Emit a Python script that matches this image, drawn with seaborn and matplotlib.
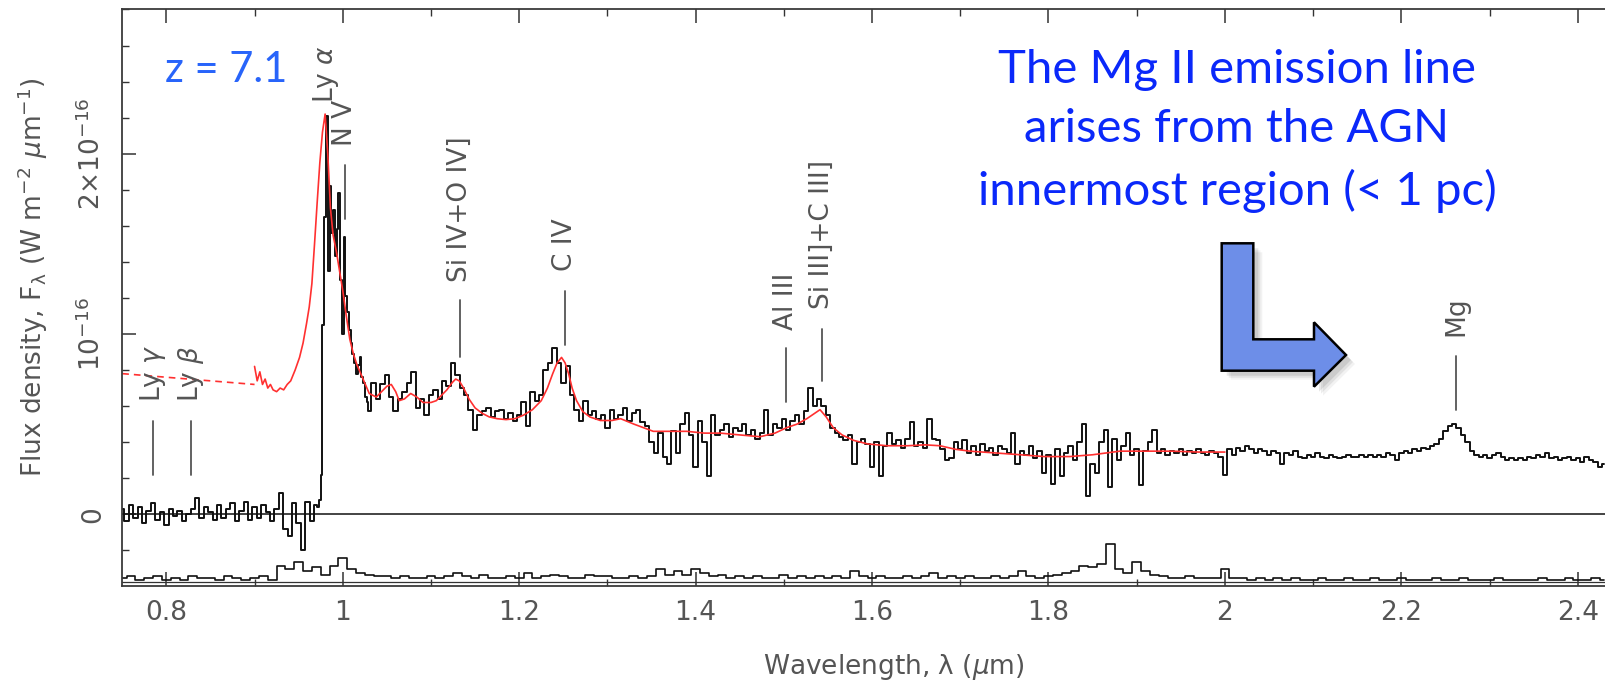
import numpy as np
import pandas as pd
import seaborn as sns
import matplotlib
matplotlib.use("Agg")
import matplotlib.pyplot as plt
from matplotlib.patches import Polygon
from matplotlib.ticker import MultipleLocator, FuncFormatter

# observed spectrum, flux in units of 1e-16 W m^-2 um^-1
# blue side: every 0.005 um from 0.750 to 0.970
flux_blue = [
    0.03, -0.04, 0.05, -0.02, 0.04, -0.05, 0.02, 0.06, -0.03, 0.01, -0.06, 0.03, -0.01, 0.02, -0.04, 0.00, 0.03, 0.09, -0.02, 0.04,
    0.01, -0.03, 0.05, -0.02, 0.03, 0.06, -0.04, 0.02, 0.07, -0.03, 0.04, -0.02, 0.05, 0.01, -0.04, 0.03, 0.12, -0.08, -0.12, 0.06,
    -0.05, -0.20, 0.07, -0.04, 0.05,
]
# Ly-alpha region: every 0.002 um from 0.972 to 1.030
flux_lya = [
    0.04, 0.08, 0.22, 1.05, 1.65, 2.21, 1.35, 1.82, 1.56, 1.69, 1.43, 1.58, 1.78, 1.30, 1.00,
    1.54, 1.21, 1.12, 1.02, 0.95, 0.89, 0.84, 0.78, 0.83, 0.87, 0.76, 0.73, 0.65, 0.62, 0.57,
]
# red side: every 0.005 um from 1.035 to 2.430
flux_red = [
    0.73, 0.64, 0.72,
    0.77, 0.65, 0.57, 0.64, 0.68, 0.73, 0.79, 0.59, 0.64, 0.55, 0.66, 0.69, 0.64, 0.74, 0.71, 0.84, 0.77, 0.70, 0.66, 0.58,
    0.47, 0.55, 0.57, 0.59, 0.54, 0.57, 0.58, 0.53, 0.56, 0.52, 0.55, 0.62, 0.49, 0.68, 0.63, 0.66, 0.80, 0.84, 0.92, 0.84,
    0.73, 0.82, 0.66, 0.58, 0.52, 0.63, 0.55, 0.57, 0.53, 0.55, 0.48, 0.58, 0.53, 0.55, 0.59, 0.52, 0.56, 0.58, 0.51, 0.49,
    0.40, 0.34, 0.45, 0.32, 0.28, 0.46, 0.34, 0.50, 0.56, 0.44, 0.26, 0.52, 0.40, 0.21, 0.55, 0.44, 0.47, 0.50, 0.43, 0.48,
    0.46, 0.50, 0.44, 0.47, 0.42, 0.45, 0.58, 0.44, 0.50, 0.48, 0.53, 0.47, 0.52, 0.55, 0.50, 0.57, 0.70, 0.60, 0.64, 0.60,
    0.55, 0.48, 0.45, 0.43, 0.41, 0.44, 0.28, 0.40, 0.42, 0.39, 0.26, 0.40, 0.21, 0.38, 0.45, 0.39, 0.41, 0.37, 0.42, 0.51,
    0.38, 0.40, 0.37, 0.53, 0.42, 0.41, 0.36, 0.30, 0.31, 0.40, 0.36, 0.41, 0.34, 0.38, 0.33, 0.39, 0.35, 0.37, 0.33, 0.38,
    0.36, 0.34, 0.45, 0.28, 0.35, 0.33, 0.38, 0.31, 0.35, 0.23, 0.33, 0.17, 0.36, 0.21, 0.34, 0.38, 0.30, 0.40, 0.50, 0.10,
    0.28, 0.23, 0.40, 0.47, 0.15, 0.42, 0.30, 0.38, 0.45, 0.33, 0.36, 0.16, 0.35, 0.40, 0.47, 0.34, 0.36, 0.33, 0.35, 0.34,
    0.36, 0.33, 0.35, 0.34, 0.36, 0.34, 0.33, 0.35, 0.34, 0.32, 0.22, 0.36, 0.33, 0.37, 0.35, 0.38, 0.36, 0.34, 0.36, 0.35,
    0.33, 0.35, 0.34, 0.28, 0.34, 0.33, 0.35, 0.32, 0.31, 0.33, 0.32, 0.34, 0.32, 0.31, 0.33, 0.32, 0.31, 0.32, 0.33, 0.32,
    0.32, 0.33, 0.32, 0.33, 0.32, 0.33, 0.32, 0.34, 0.33, 0.30, 0.34, 0.35, 0.34, 0.36, 0.35, 0.37, 0.36, 0.38, 0.39, 0.42,
    0.46, 0.49, 0.50, 0.48, 0.44, 0.40, 0.35, 0.33, 0.32, 0.33, 0.31, 0.33, 0.34, 0.32, 0.30, 0.31, 0.30, 0.31, 0.30, 0.32,
    0.31, 0.33, 0.32, 0.34, 0.31, 0.32, 0.30, 0.31, 0.32, 0.30, 0.31, 0.29, 0.32, 0.30, 0.29, 0.26, 0.28,
]

# error spectrum, every 0.01 um from 0.75 um, drawn above an offset baseline
err = [
    0.02, 0.03, 0.01, 0.02, 0.03, 0.01, 0.02, 0.01, 0.03, 0.02,
    0.02, 0.01, 0.03, 0.02, 0.01, 0.02, 0.03, 0.01, 0.09, 0.07,
    0.11, 0.06, 0.08, 0.04, 0.09, 0.13, 0.07, 0.05, 0.04, 0.03,
    0.03, 0.02, 0.03, 0.02, 0.02, 0.03, 0.02, 0.03, 0.05, 0.03,
    0.02, 0.04, 0.02, 0.02, 0.03, 0.02, 0.05, 0.02, 0.03, 0.04,
    0.03, 0.02, 0.02, 0.04, 0.03, 0.03, 0.02, 0.02, 0.03, 0.02,
    0.03, 0.07, 0.04, 0.06, 0.04, 0.07, 0.05, 0.03, 0.04, 0.02,
    0.03, 0.02, 0.03, 0.02, 0.02, 0.04, 0.02, 0.03, 0.02, 0.03,
    0.02, 0.03, 0.02, 0.06, 0.03, 0.02, 0.03, 0.02, 0.02, 0.03,
    0.02, 0.03, 0.05, 0.02, 0.03, 0.02, 0.03, 0.02, 0.02, 0.03,
    0.02, 0.03, 0.06, 0.03, 0.02, 0.03, 0.04, 0.05, 0.06, 0.09,
    0.08, 0.10, 0.21, 0.07, 0.05, 0.11, 0.06, 0.04, 0.03, 0.02,
    0.02, 0.03, 0.02, 0.02, 0.02, 0.07, 0.02, 0.02, 0.01, 0.02,
    0.01, 0.02, 0.01, 0.02, 0.01, 0.01, 0.02, 0.01, 0.01, 0.02,
    0.01, 0.01, 0.02, 0.01, 0.01, 0.02, 0.01, 0.01, 0.01, 0.02,
    0.01, 0.01, 0.02, 0.01, 0.01, 0.01, 0.02, 0.01, 0.01, 0.01,
    0.01, 0.02, 0.01, 0.01, 0.02, 0.01, 0.01, 0.02, 0.01,
]
err_offset = -0.375

# composite quasar template (red)
model_dash_wl = [0.75, 0.90]
model_dash_flux = [0.78, 0.72]
model_wl = [
    0.900, 0.903, 0.906, 0.909, 0.912, 0.915, 0.918, 0.921, 0.925, 0.929, 0.933, 0.937, 0.941, 0.946,
    0.951, 0.955, 0.959, 0.962, 0.965, 0.968, 0.971, 0.974, 0.977, 0.980, 0.983, 0.986, 0.989, 0.993,
    0.997, 1.000, 1.004, 1.008, 1.012, 1.016, 1.023, 1.030, 1.038, 1.044, 1.050, 1.055, 1.060, 1.064,
    1.070, 1.077, 1.084, 1.091, 1.100, 1.106, 1.112, 1.118, 1.124, 1.128, 1.132, 1.137, 1.143, 1.150,
    1.158, 1.166, 1.175, 1.185, 1.195, 1.205, 1.215, 1.225, 1.232, 1.238, 1.243, 1.248, 1.252, 1.256,
    1.260, 1.265, 1.272, 1.280, 1.292, 1.305, 1.315, 1.330, 1.352, 1.370, 1.390, 1.410, 1.428, 1.450,
    1.473, 1.490, 1.503, 1.515, 1.526, 1.535, 1.541, 1.548, 1.556, 1.566, 1.579, 1.595, 1.617, 1.640,
    1.660, 1.677, 1.695, 1.711, 1.740, 1.768, 1.795, 1.824, 1.850, 1.881, 1.910, 1.940, 1.970, 2.000,
]
model_flux = [
    0.82, 0.74, 0.79, 0.72, 0.75, 0.70, 0.72, 0.69, 0.68, 0.70, 0.69, 0.72, 0.74, 0.80,
    0.87, 0.95, 1.06, 1.15, 1.28, 1.50, 1.73, 1.95, 2.12, 2.22, 2.00, 1.70, 1.55, 1.45,
    1.33, 1.24, 1.10, 0.97, 0.89, 0.83, 0.75, 0.67, 0.65, 0.68, 0.71, 0.72, 0.68, 0.63,
    0.64, 0.67, 0.65, 0.62, 0.62, 0.63, 0.66, 0.69, 0.73, 0.75, 0.74, 0.70, 0.64, 0.59,
    0.56, 0.54, 0.53, 0.525, 0.53, 0.55, 0.58, 0.63, 0.70, 0.78, 0.84, 0.87, 0.84, 0.78,
    0.70, 0.63, 0.57, 0.54, 0.52, 0.52, 0.53, 0.50, 0.46, 0.46, 0.46, 0.45, 0.45, 0.44,
    0.43, 0.45, 0.48, 0.50, 0.53, 0.56, 0.58, 0.54, 0.48, 0.44, 0.41, 0.39, 0.38, 0.38,
    0.385, 0.38, 0.36, 0.35, 0.34, 0.33, 0.32, 0.32, 0.33, 0.35, 0.35, 0.35, 0.345, 0.345,
]

# emission line identifications
line_names = ["Ly $\\mathit{\\gamma}$", "Ly $\\mathit{\\beta}$", "Ly $\\mathit{\\alpha}$", "N V",
              "Si IV+O IV]", "C IV", "Al III", "Si III]+C III]", "Mg"]
line_wl = [0.785, 0.828, 0.981, 1.003, 1.133, 1.252, 1.502, 1.543, 2.262]
mark_lo = [0.22, 0.22, None, 1.64, 0.87, 0.94, 0.62, 0.74, 0.58]
mark_hi = [0.52, 0.52, None, 1.94, 1.19, 1.24, 0.92, 1.03, 0.88]
label_base = [0.62, 0.62, 2.28, 2.04, 1.29, 1.35, 1.02, 1.14, 0.99]

ytick_vals = [0, 1, 2]
ytick_text = ["0", "$10^{-16}$", "$2{\\times}10^{-16}$"]

sns.set_style("ticks")
plt.rcParams["font.family"] = ["DejaVu Sans"]
plt.rcParams["mathtext.default"] = "regular"

W, H = 1606, 682
fig = plt.figure(figsize=(W / 100, H / 100), dpi=100)
ax = fig.add_axes([121.7 / W, 96 / H, 1 - 121.7 / W, 576.7 / H])

wl_all = np.concatenate([
    0.750 + 0.005 * np.arange(len(flux_blue)),
    0.972 + 0.002 * np.arange(len(flux_lya)),
    1.035 + 0.005 * np.arange(len(flux_red)),
])
spec = pd.DataFrame({"wl": np.round(wl_all, 4), "flux": flux_blue + flux_lya + flux_red})
errs = pd.DataFrame({"wl": np.round(0.75 + 0.01 * np.arange(len(err)), 3),
                     "flux": np.array(err) + err_offset})
model = pd.DataFrame({"wl": model_wl, "flux": model_flux})
model_dash = pd.DataFrame({"wl": model_dash_wl, "flux": model_dash_flux})

ax.axhline(0, color="#111111", lw=1.1, zorder=1)
sns.lineplot(data=errs, x="wl", y="flux", ax=ax, color="#111111", lw=1.2,
             drawstyle="steps-mid", estimator=None, legend=False)
ax.axhline(err_offset, color="#333333", lw=0.9, zorder=1)
sns.lineplot(data=spec, x="wl", y="flux", ax=ax, color="#111111", lw=1.4,
             drawstyle="steps-mid", estimator=None, legend=False)
sns.lineplot(data=model_dash, x="wl", y="flux", ax=ax, color="#ff3030", lw=1.2,
             linestyle=(0, (4, 3)), estimator=None, legend=False)
sns.lineplot(data=model, x="wl", y="flux", ax=ax, color="#ff3030", lw=1.2,
             estimator=None, legend=False)

gray = "#555555"
for name, wl, lo, hi, base in zip(line_names, line_wl, mark_lo, mark_hi, label_base):
    if lo is not None:
        ax.plot([wl, wl], [lo, hi], color=gray, lw=1.3)
    ax.text(wl, base, name, rotation=90, ha="center", va="bottom",
            fontsize=19, color=gray)

ax.set_xlim(0.7494, 2.432)
ax.set_ylim(-0.398, 2.801)
ax.xaxis.set_major_locator(MultipleLocator(0.2))
ax.xaxis.set_minor_locator(MultipleLocator(0.1))
ax.xaxis.set_major_formatter(FuncFormatter(lambda v, p: "%g" % round(v, 2)))
ax.set_yticks(ytick_vals)
ax.set_yticklabels(ytick_text, rotation=90, va="center")
ax.yaxis.set_minor_locator(MultipleLocator(0.2))
ax.tick_params(which="both", direction="in", top=True, right=False,
               color="#333333", labelcolor=gray, labelsize=19)
ax.tick_params(which="major", length=10, width=1.1)
ax.tick_params(which="minor", length=5, width=1.0)
ax.tick_params(axis="x", pad=10)
ax.tick_params(axis="y", pad=11)
for side in ["left", "top", "bottom"]:
    ax.spines[side].set_color("#3a3a3a")
    ax.spines[side].set_linewidth(1.3)
ax.spines["right"].set_visible(False)

ax.set_xlabel("Wavelength, λ ($\\mathit{\\mu}$m)", fontsize=19, color=gray)
ax.set_ylabel("Flux density, F$_{\\lambda}$ (W m$^{-2}$ $\\mathit{\\mu}$m$^{-1}$)", fontsize=19, color=gray)
ax.xaxis.set_label_coords(0.52, -0.115)
ax.yaxis.set_label_coords(-0.048, 0.536)

# slide annotations
fig.text(226 / W, 1 - 70 / H, "z = 7.1", fontsize=30, color="#2864fa",
         ha="center", va="center", family=["Lato", "DejaVu Sans"])
fig.text(1237 / W, 1 - 131 / H,
         "The Mg II emission line\narises from the AGN\ninnermost region (< 1 pc)",
         fontsize=34, color="#0a28fa", ha="center", va="center", linespacing=1.5,
         family=["Lato", "DejaVu Sans"])

arrow_px = [(1221.7, 243.3), (1253.3, 243.3), (1253.3, 339.3), (1314, 339.3), (1314, 322.3),
            (1346, 355), (1314, 386.7), (1314, 370.7), (1221.7, 370.7)]
for off, a in [(9, 0.05), (7, 0.07), (5, 0.09)]:
    shadow = [((x + off) / W, 1 - (y + off) / H) for x, y in arrow_px]
    fig.patches.append(Polygon(shadow, closed=True, transform=fig.transFigure,
                               facecolor="#000000", edgecolor="none", alpha=a))
fig.patches.append(Polygon([(x / W, 1 - y / H) for x, y in arrow_px], closed=True,
                           transform=fig.transFigure, facecolor="#6d8ee8",
                           edgecolor="#000000", lw=1.8))

fig.savefig("out.png", dpi=100)
